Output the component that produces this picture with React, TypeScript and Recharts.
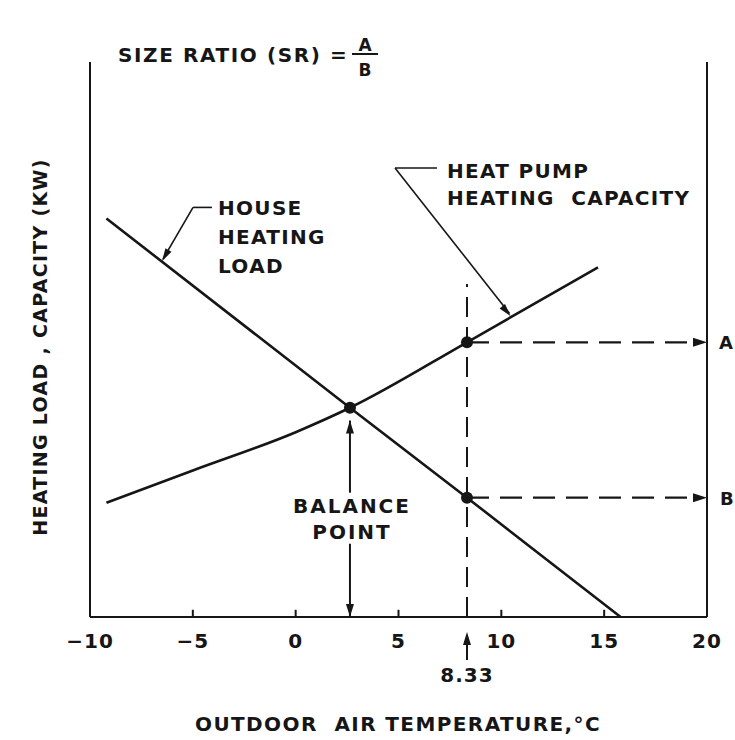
import React from "react";
import { ComposedChart, Line, XAxis, YAxis, ReferenceLine, ReferenceDot } from "recharts";

const FONT = "'DejaVu Sans', sans-serif";
const INK = "#161616";

// Axis ticks (outdoor air temperature, °C)
const xTicks = [-10, -5, 0, 5, 10, 15, 20];

// House heating load (kW) vs outdoor temperature
const loadTemps = [-9.2, 2.64, 8.33, 15.8];
const loadValues = [7.18, 3.77, 2.15, 0];

// Heat pump heating capacity (kW) vs outdoor temperature
const pumpTemps = [-9.2, -5, 0, 2.64, 8.33, 14.7];
const pumpValues = [2.06, 2.64, 3.33, 3.77, 4.95, 6.3];

// Key points
const balanceTemp = 2.64;
const balanceValue = 3.77;
const designTemp = 8.33;
const capacityA = 4.95;
const loadB = 2.15;
const designLineTop = 6.0;

const loadData = loadTemps.map((x, i) => ({ x, y: loadValues[i] }));
const pumpData = pumpTemps.map((x, i) => ({ x, y: pumpValues[i] }));

const txt = { fontFamily: FONT, fontWeight: 700, fill: INK } as const;

const arrowShape = (angle: number, len = 13, w = 8) => (p: any) => {
  const { cx, cy } = p;
  if (cx == null || cy == null) return <g />;
  return (
    <polygon
      points={`${cx},${cy} ${cx - len},${cy - w / 2} ${cx - len},${cy + w / 2}`}
      fill={INK}
      transform={`rotate(${angle} ${cx} ${cy})`}
    />
  );
};

const textShape = (lines: string[], dx: number, dy: number, lineH: number, anchor: "start" | "middle" = "start", size = 20, spacing = 1.3) => (p: any) => {
  const { cx, cy } = p;
  if (cx == null || cy == null) return <g />;
  return (
    <g>
      {lines.map((t, i) => (
        <text key={i} x={cx + dx} y={cy + dy + i * lineH} textAnchor={anchor} fontSize={size} letterSpacing={spacing} style={{ whiteSpace: "pre" }} {...txt}>
          {t}
        </text>
      ))}
    </g>
  );
};

const XTick = (p: any) => {
  const { x, y, payload } = p;
  const v = payload.value as number;
  const s = v < 0 ? `\u2212${Math.abs(v)}` : `${v}`;
  return (
    <text x={x} y={y} dy={14} textAnchor="middle" fontSize={20} letterSpacing={1} {...txt}>
      {s}
    </text>
  );
};

const designShape = (p: any) => {
  const { cx, cy } = p;
  if (cx == null || cy == null) return <g />;
  return (
    <g>
      <line x1={cx} y1={cy + 20} x2={cx} y2={cy + 43} stroke={INK} strokeWidth={2} />
      <polygon points={`${cx},${cy + 15} ${cx - 4},${cy + 28} ${cx + 4},${cy + 28}`} fill={INK} />
      <text x={cx} y={cy + 65} textAnchor="middle" fontSize={20} letterSpacing={1} {...txt}>8.33</text>
    </g>
  );
};

const titleShape = (p: any) => {
  const { cx, cy } = p;
  if (cx == null || cy == null) return <g />;
  return (
    <g>
      <text x={cx + 28} y={cy} fontSize={20} letterSpacing={1.6} style={{ whiteSpace: "pre" }} {...txt}>SIZE RATIO (SR) =</text>
      <text x={cx + 275} y={cy - 11} textAnchor="middle" fontSize={17} {...txt}>A</text>
      <line x1={cx + 262} x2={cx + 288} y1={cy - 8} y2={cy - 8} stroke={INK} strokeWidth={2} />
      <text x={cx + 275} y={cy + 14} textAnchor="middle" fontSize={17} {...txt}>B</text>
    </g>
  );
};

const XLabel = () => (
  <text x={398} y={731} textAnchor="middle" fontSize={20} letterSpacing={1.4} style={{ whiteSpace: "pre" }} {...txt}>
    {"OUTDOOR  AIR TEMPERATURE,\u00B0C"}
  </text>
);

const YLabel = () => (
  <text x={47} y={347} textAnchor="middle" fontSize={19} letterSpacing={1.3} transform="rotate(-90 47 347)" style={{ whiteSpace: "pre" }} {...txt}>
    HEATING LOAD , CAPACITY (KW)
  </text>
);

const axisStyle = { stroke: INK, strokeWidth: 2 };

export default function App() {
  return (
    <div style={{ position: "absolute", left: 0, top: 0, background: "#fff" }}>
      <ComposedChart width={735} height={740} margin={{ top: 62, right: 0, bottom: 0, left: 0 }}>
        <XAxis
          type="number"
          dataKey="x"
          domain={[-10, 20]}
          ticks={xTicks}
          interval={0}
          allowDataOverflow
          height={123}
          axisLine={axisStyle}
          tickLine={false}
          tickSize={0}
          tickMargin={17}
          tick={<XTick />}
          label={<XLabel />}
        />
        <YAxis yAxisId="l" type="number" domain={[0, 10]} width={90} tick={false} tickLine={false} axisLine={axisStyle} label={<YLabel />} />
        <YAxis yAxisId="r" orientation="right" type="number" domain={[0, 10]} width={28} tick={false} tickLine={false} axisLine={axisStyle} />

        {/* inward tick marks on the temperature axis */}
        {xTicks.slice(1, -1).map((t) => (
          <ReferenceLine key={`tk${t}`} yAxisId="l" segment={[{ x: t, y: 0 }, { x: t, y: 0.13 }]} stroke={INK} strokeWidth={2} />
        ))}

        <Line yAxisId="l" data={loadData} dataKey="y" type="linear" stroke={INK} strokeWidth={2.6} dot={false} isAnimationActive={false} />
        <Line yAxisId="l" data={pumpData} dataKey="y" type="monotone" stroke={INK} strokeWidth={2.6} dot={false} isAnimationActive={false} />

        {/* design temperature dashed line and A/B projections */}
        <ReferenceLine yAxisId="l" segment={[{ x: designTemp, y: 0 }, { x: designTemp, y: designLineTop }]} stroke={INK} strokeWidth={2} strokeDasharray="20 10" />
        <ReferenceLine yAxisId="l" segment={[{ x: designTemp, y: capacityA }, { x: 19.4, y: capacityA }]} stroke={INK} strokeWidth={2.2} strokeDasharray="22 11" />
        <ReferenceLine yAxisId="l" segment={[{ x: designTemp, y: loadB }, { x: 19.4, y: loadB }]} stroke={INK} strokeWidth={2.2} strokeDasharray="22 11" />
        <ReferenceDot yAxisId="l" x={20} y={capacityA} r={0} ifOverflow="visible" shape={arrowShape(0, 14, 9)} />
        <ReferenceDot yAxisId="l" x={20} y={loadB} r={0} ifOverflow="visible" shape={arrowShape(0, 14, 9)} />
        <ReferenceDot yAxisId="l" x={20} y={capacityA} r={0} ifOverflow="visible" shape={textShape(["A"], 12, 7, 0, "start", 18, 0)} />
        <ReferenceDot yAxisId="l" x={20} y={loadB} r={0} ifOverflow="visible" shape={textShape(["B"], 13, 7, 0, "start", 18, 0)} />
        <ReferenceDot yAxisId="l" x={designTemp} y={0} r={0} ifOverflow="visible" shape={designShape} />

        {/* balance point arrows */}
        <ReferenceLine yAxisId="l" segment={[{ x: balanceTemp, y: 3.54 }, { x: balanceTemp, y: 2.24 }]} stroke={INK} strokeWidth={2} />
        <ReferenceDot yAxisId="l" x={balanceTemp} y={3.54} r={0} ifOverflow="visible" shape={arrowShape(-90, 13, 8)} />
        <ReferenceLine yAxisId="l" segment={[{ x: balanceTemp, y: 1.32 }, { x: balanceTemp, y: 0 }]} stroke={INK} strokeWidth={2} />
        <ReferenceDot yAxisId="l" x={balanceTemp} y={0} r={0} ifOverflow="visible" shape={arrowShape(90, 13, 8)} />
        <ReferenceDot yAxisId="l" x={balanceTemp} y={2.24} r={0} ifOverflow="visible" shape={textShape(["BALANCE", "POINT"], 2, 20, 26, "middle", 20, 2)} />

        {/* callout: house heating load */}
        <ReferenceLine yAxisId="l" segment={[{ x: -4.99, y: 7.38 }, { x: -4.07, y: 7.38 }]} stroke={INK} strokeWidth={1.6} />
        <ReferenceLine yAxisId="l" segment={[{ x: -4.99, y: 7.38 }, { x: -6.45, y: 6.45 }]} stroke={INK} strokeWidth={1.6} />
        <ReferenceDot yAxisId="l" x={-6.5} y={6.41} r={0} ifOverflow="visible" shape={arrowShape(120, 13, 7)} />
        <ReferenceDot yAxisId="l" x={-4.99} y={7.38} r={0} ifOverflow="visible" shape={textShape(["HOUSE", "HEATING", "LOAD"], 25, 8, 29)} />

        {/* callout: heat pump heating capacity */}
        <ReferenceLine yAxisId="l" segment={[{ x: 4.83, y: 8.09 }, { x: 6.87, y: 8.09 }]} stroke={INK} strokeWidth={1.6} />
        <ReferenceLine yAxisId="l" segment={[{ x: 4.83, y: 8.09 }, { x: 10.4, y: 5.47 }]} stroke={INK} strokeWidth={1.6} />
        <ReferenceDot yAxisId="l" x={10.45} y={5.42} r={0} ifOverflow="visible" shape={arrowShape(50.5, 13, 7)} />
        <ReferenceDot yAxisId="l" x={4.83} y={8.09} r={0} ifOverflow="visible" shape={textShape(["HEAT PUMP", "HEATING  CAPACITY"], 52, 10, 27)} />

        {/* key points */}
        <ReferenceDot yAxisId="l" x={balanceTemp} y={balanceValue} r={6} fill={INK} stroke="none" />
        <ReferenceDot yAxisId="l" x={designTemp} y={capacityA} r={6} fill={INK} stroke="none" />
        <ReferenceDot yAxisId="l" x={designTemp} y={loadB} r={6} fill={INK} stroke="none" />

        {/* title */}
        <ReferenceDot yAxisId="l" x={-10} y={10} r={0} ifOverflow="visible" shape={titleShape} />
      </ComposedChart>
    </div>
  );
}
